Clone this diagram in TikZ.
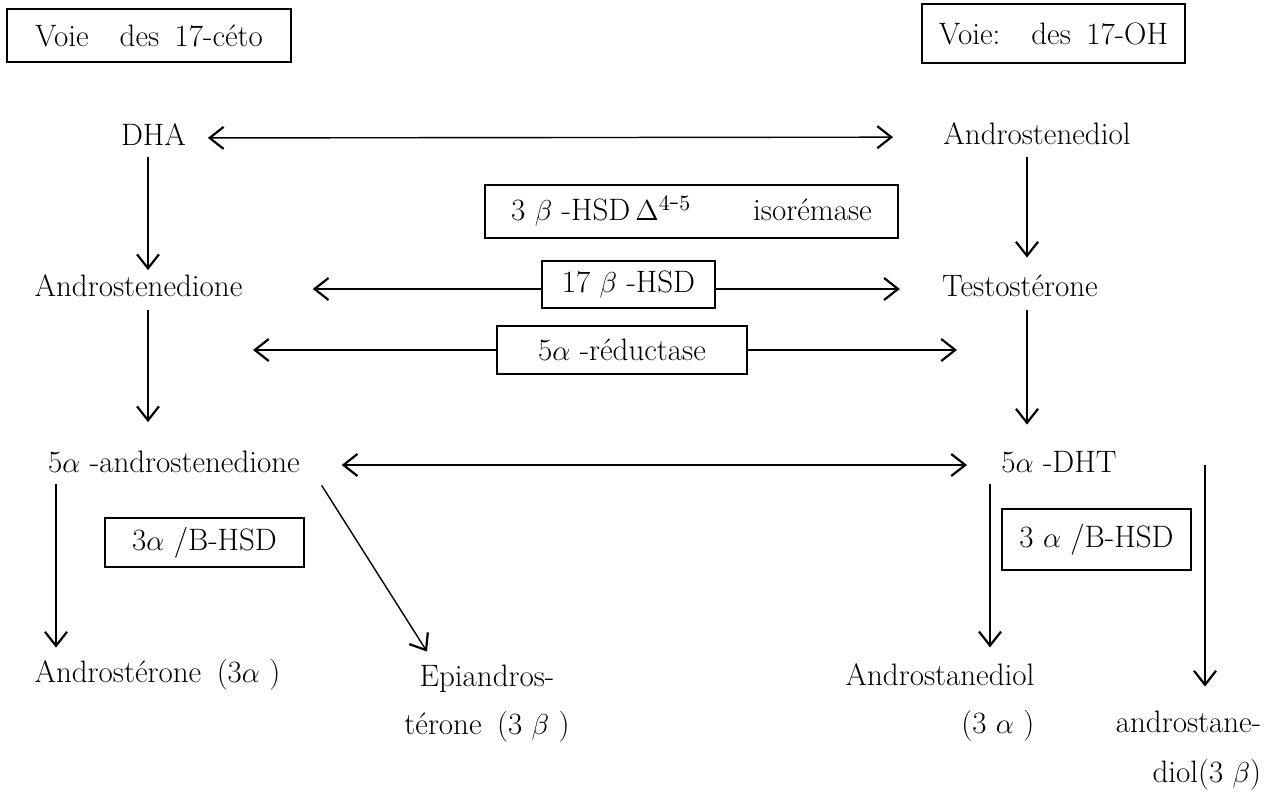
\documentclass[tikz,border=0pt]{standalone}
\usetikzlibrary{arrows.meta}
\begin{document}
\begin{tikzpicture}[x=0.5pt,y=-0.5pt,
    every node/.style={font=\fontsize{15.5}{24}\selectfont},
    mol/.style={inner sep=2pt, text height=11pt, text depth=3.5pt},
    molx/.style={inner sep=2pt},
    enzyme/.style={draw, line width=0.8pt, inner sep=0pt},
    conv/.style={line width=0.7pt, -{Straight Barb[length=7pt,width=11pt,line width=1.1pt]}},
    rev/.style={line width=0.7pt, {Straight Barb[length=7pt,width=11pt,line width=1.1pt]}-{Straight Barb[length=7pt,width=11pt,line width=1.1pt]}}]
    \useasboundingbox (0,0) rectangle (1285,792);
    % the two pathways
    \node[enzyme, minimum width=142pt, minimum height=26.5pt] (voieceto) at (149,35.5) {Voie\quad des\enspace 17-céto};
    \node[enzyme, minimum width=131.5pt, minimum height=29.5pt] (voieoh) at (1053.5,33.5) {Voie:\quad des\enspace 17-OH};
    % steroids
    \node[mol] (dha) at (153.5,138) {DHA};
    \node[mol] (adiol) at (1037,137) {Androstenediol};
    \node[mol] (adione) at (138.5,289) {Androstenedione};
    \node[mol] (testo) at (1020,289) {Testostérone};
    \node[mol] (adione5) at (174,465) {5$\alpha$ -androstenedione};
    \node[mol] (dht) at (1059,465) {5$\alpha$ -DHT};
    \node[mol] (andro) at (157.5,675) {Androstérone\enspace(3$\alpha$ )};
    \node[molx, align=center] (epi) at (487,704) {Epiandros-\\térone\enspace(3 $\beta$ )};
    \node[molx, align=right] (andiol) at (940,702) {Androstanediol\\(3 $\alpha$ )};
    \node[molx, align=right] (andane) at (1188.5,751) {androstane-\\[1pt]diol(3 $\beta$)};
    % enzymes
    \node[enzyme, minimum width=206.5pt, minimum height=26.5pt] (hsd3b) at (691.5,211.5) {3 $\beta$ -HSD\,$\Delta^{4\mbox{-}5}$\hspace{2em}isorémase};
    \node[enzyme, minimum width=86.5pt, minimum height=23.5pt] (hsd17) at (628.5,284.5) {17 $\beta$ -HSD};
    \node[enzyme, minimum width=125pt, minimum height=24pt] (red5a) at (622,350) {5$\alpha$ -réductase};
    \node[enzyme, minimum width=99.5pt, minimum height=24.5pt] (hsd3L) at (204.5,542.5) {3$\alpha$ /B-HSD};
    \node[enzyme, minimum width=94.5pt, minimum height=30.5pt] (hsd3R) at (1096.5,539.5) {3 $\alpha$ /B-HSD};
    % axes of the vertical arrows
    \coordinate (axL) at (148,0);
    \coordinate (axR) at (1027,0);
    \coordinate (axA) at (56,0);
    \coordinate (axD) at (990,0);
    \coordinate (axB) at (1205,0);
    \coordinate (redL) at (253,350);
    \coordinate (redR) at (957,350);
    % horizontal arrows
    \draw[rev, shorten <=8.75pt, shorten >=23pt] (dha) -- (adiol);
    \draw[conv, shorten >=33pt] (hsd17.west |- adione) -- (adione);
    \draw[conv, shorten >=19pt] (hsd17.east |- testo) -- (testo);
    \draw[conv] (red5a) -- (redL);
    \draw[conv] (red5a) -- (redR);
    \draw[rev, shorten <=18.75pt, shorten >=15pt] (adione5) -- (dht);
    % vertical arrows
    \draw[conv] (dha.south -| axL) -- (adione.north -| axL);
    \draw[conv, shorten <=0.75pt, shorten >=6.25pt] (adiol.south -| axR) -- (testo.north -| axR);
    \draw[conv, shorten <=1.25pt, shorten >=12pt] (adione.south -| axL) -- (adione5.north -| axL);
    \draw[conv, shorten <=1.25pt, shorten >=10.75pt] (testo.south -| axR) -- (dht.north -| axR);
    \draw[conv, shorten >=4.25pt] (adione5.south -| axA) -- (andro.north -| axA);
    \draw[conv] ([xshift=8.75pt,yshift=-0.75pt]adione5.south east) -- ([xshift=-30pt,yshift=4.7pt]epi.north);
    \draw[conv, shorten >=5.7pt] (dht.south -| axD) -- (andiol.north -| axD);
    \draw[conv, shorten >=10.2pt] (dht.east -| axB) -- (andane.north -| axB);
\end{tikzpicture}
\end{document}
